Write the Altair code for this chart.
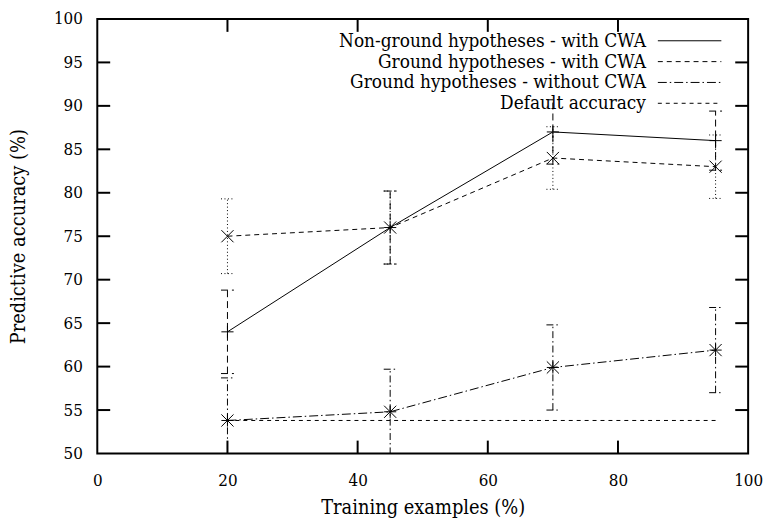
import altair as alt
import pandas as pd

# ---- data ----
x_vals = [20, 45, 70, 95]
nonground_cwa = [64.0, 76.0, 87.0, 86.0]
nonground_cwa_err = [4.8, 4.2, 3.7, 3.4]
ground_cwa = [75.0, 76.0, 84.0, 83.0]
ground_cwa_err = [4.3, 4.2, 3.6, 3.65]
ground_nocwa = [53.8, 54.8, 59.9, 61.9]
ground_nocwa_err = [4.9, 4.9, 4.9, 4.9]
default_x = [20, 95]
default_acc = [53.8, 53.8]
legend_labels = [
    "Non-ground hypotheses - with CWA",
    "Ground hypotheses - with CWA",
    "Ground hypotheses - without CWA",
    "Default accuracy",
]
x_ticks = [0, 20, 40, 60, 80, 100]
y_ticks = [50, 55, 60, 65, 70, 75, 80, 85, 90, 95, 100]

W, H = 656, 438
FONT = "DejaVu Serif Condensed, DejaVu Serif"

xs = alt.Scale(domain=[0, 100], nice=False, zero=False)
ys = alt.Scale(domain=[50, 100], nice=False, zero=False)

xaxis = alt.Axis(values=x_ticks, ticks=False, domain=False, grid=False,
                 labelFont=FONT, labelFontSize=17, labelColor="black",
                 labelPadding=19, title="Training examples (%)",
                 titleFont=FONT, titleFontSize=20, titleFontWeight="normal",
                 titleColor="black", titlePadding=9, labelFlush=False)
yaxis = alt.Axis(values=y_ticks, ticks=False, domain=False, grid=False,
                 labelFont=FONT, labelFontSize=17, labelColor="black",
                 labelPadding=15, title="Predictive accuracy (%)",
                 titleFont=FONT, titleFontSize=20, titleFontWeight="normal",
                 titleColor="black", titlePadding=25, labelFlush=False)


def X(f):
    return alt.X(f, type="quantitative", scale=xs, axis=xaxis)


def Y(f):
    return alt.Y(f, type="quantitative", scale=ys, axis=yaxis)


PLUS = "M-1,0L1,0M0,-1L0,1"
CROSS = "M-1,-1L1,1M-1,1L1,-1"
STAR = "M-1,0L1,0M0,-1L0,1M-1,-1L1,1M-1,1L1,-1"


def series(yv, ev, line_dash, bar_dash, shape):
    df = pd.DataFrame({
        "x": x_vals,
        "y": yv,
        "lo": [a - b for a, b in zip(yv, ev)],
        "hi": [a + b for a, b in zip(yv, ev)],
    })
    base = alt.Chart(df)
    bars = base.mark_rule(color="black", strokeWidth=1, strokeDash=bar_dash, clip=True).encode(
        x=X("x"), y=Y("lo"), y2="hi")
    cap_lo = base.mark_rule(color="black", strokeWidth=1, strokeDash=bar_dash, clip=True,
                            xOffset=-6.5, x2Offset=6.5).encode(x=X("x"), x2="x", y=Y("lo"))
    cap_hi = base.mark_rule(color="black", strokeWidth=1, strokeDash=bar_dash, clip=True,
                            xOffset=-6.5, x2Offset=6.5).encode(x=X("x"), x2="x", y=Y("hi"))
    line_kw = dict(color="black", strokeWidth=1, clip=True)
    if line_dash:
        line_kw["strokeDash"] = line_dash
    line = base.mark_line(**line_kw).encode(x=X("x"), y=Y("y"))
    pts = base.mark_point(shape=shape, filled=False, size=150, color="black",
                          strokeWidth=1, opacity=1).encode(x=X("x"), y=Y("y"))
    return [bars, cap_lo, cap_hi, line, pts]


DASH_NG_BAR = [7, 4]
DASH_GC_LINE = [5, 4]
DASH_GC_BAR = [1, 2.5]
DASH_GN_LINE = [9, 3, 1.5, 3]
DASH_GN_BAR = [7, 3, 1.5, 3]
DASH_DEF = [4, 4]

layers = []
layers += series(nonground_cwa, nonground_cwa_err, None, DASH_NG_BAR, PLUS)
layers += series(ground_cwa, ground_cwa_err, DASH_GC_LINE, DASH_GC_BAR, CROSS)
layers += series(ground_nocwa, ground_nocwa_err, DASH_GN_LINE, DASH_GN_BAR, STAR)

default_df = pd.DataFrame({"x": default_x, "y": default_acc})
layers.append(alt.Chart(default_df).mark_line(color="black", strokeWidth=1,
                                              strokeDash=DASH_DEF).encode(x=X("x"), y=Y("y")))

# inward ticks on all four sides
ytk = pd.DataFrame({"v": y_ticks[1:-1]})
xtk = pd.DataFrame({"v": x_ticks[1:-1]})
TL = 13
layers.append(alt.Chart(ytk).mark_rule(color="black", strokeWidth=2).encode(
    y=Y("v"), x=alt.value(0), x2=alt.value(TL)))
layers.append(alt.Chart(ytk).mark_rule(color="black", strokeWidth=2).encode(
    y=Y("v"), x=alt.value(W - TL), x2=alt.value(W)))
layers.append(alt.Chart(xtk).mark_rule(color="black", strokeWidth=2).encode(
    x=X("v"), y=alt.value(H - TL), y2=alt.value(H)))
layers.append(alt.Chart(xtk).mark_rule(color="black", strokeWidth=2).encode(
    x=X("v"), y=alt.value(0), y2=alt.value(TL)))

# legend (top right, text right-aligned, sample on the right)
row_y = [22, 43, 64, 85]
sample_dash = [None, DASH_GC_LINE, DASH_GN_LINE, DASH_DEF]
for i, lab in enumerate(legend_labels):
    ldf = pd.DataFrame({"label": [lab]})
    layers.append(alt.Chart(ldf).mark_text(align="right", baseline="middle", font=FONT,
                                           fontSize=19, color="black").encode(
        text="label:N", x=alt.value(553), y=alt.value(row_y[i])))
    kw = dict(color="black", strokeWidth=1)
    if sample_dash[i]:
        kw["strokeDash"] = sample_dash[i]
    layers.append(alt.Chart(ldf).mark_rule(**kw).encode(
        x=alt.value(565), x2=alt.value(629), y=alt.value(row_y[i])))

chart = alt.layer(*layers).properties(
    width=W, height=H,
    padding={"left": 90, "top": 9, "right": 17, "bottom": 68},
    autosize=alt.AutoSizeParams(type="none"),
    background="white",
).configure_view(stroke="black", strokeWidth=2)

chart.save("out.html", embed_options={"renderer": "svg", "actions": False})
